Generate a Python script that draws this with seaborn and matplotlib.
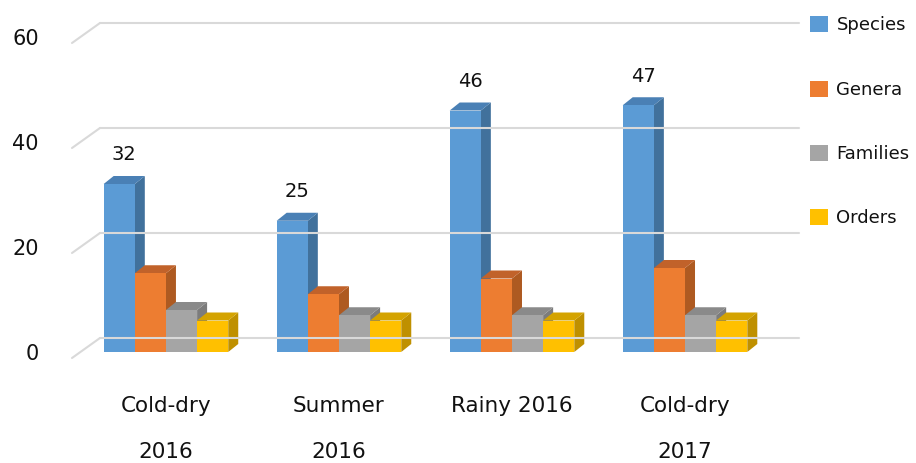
import matplotlib
matplotlib.use("Agg")
import matplotlib.pyplot as plt
import seaborn as sns
import pandas as pd
from matplotlib.patches import Polygon
from matplotlib.lines import Line2D
from matplotlib.transforms import IdentityTransform

seasons = ["Cold-dry\n2016", "Summer\n2016", "Rainy 2016\n", "Cold-dry\n2017"]
taxa = ["Species", "Genera", "Families", "Orders"]
species = [32, 25, 46, 47]
genera = [15, 11, 14, 16]
families = [8, 7, 7, 7]
orders = [6, 6, 6, 6]
yticks = [0, 20, 40, 60]

front_colors = ["#5B9BD5", "#ED7D31", "#A5A5A5", "#FFC000"]
side_colors = ["#41719C", "#AE5A21", "#7C7C7C", "#BF9000"]
top_colors = ["#4A80B5", "#C1622A", "#8A8A8A", "#D4A300"]

rows = []
for t, vals in zip(taxa, [species, genera, families, orders]):
    for s, v in zip(seasons, vals):
        rows.append({"season": s, "taxon": t, "count": v})
df = pd.DataFrame(rows)

sns.set_theme(style="white")
plt.rcParams["font.family"] = ["DejaVu Sans"]
plt.rcParams["text.color"] = "#111111"

DPI = 100
W, H = 916, 463
fig = plt.figure(figsize=(W / DPI, H / DPI), dpi=DPI)
ax_left, ax_right, ax_top, ax_bot = 72, 771, 37, 352
ax = fig.add_axes([ax_left / W, (H - ax_bot) / H, (ax_right - ax_left) / W, (ax_bot - ax_top) / H])

sns.barplot(data=df, x="season", y="count", hue="taxon", hue_order=taxa,
            order=seasons, palette=front_colors, saturation=1, width=0.72,
            ax=ax, legend=True, edgecolor="none", linewidth=0, errorbar=None)

ax.set_xlim(-0.543, 3.497)
ax.set_ylim(0, 60)
for sp in ax.spines.values():
    sp.set_visible(False)
ax.set_xlabel("")
ax.set_ylabel("")
ax.set_yticks(yticks)
ax.set_yticklabels([str(v) for v in yticks], fontsize=15, color="#111111")
ax.tick_params(axis="y", length=0, pad=24)
ax.tick_params(axis="x", length=0, pad=32)
for lab in ax.get_xticklabels():
    lab.set_fontsize(15.5)
    lab.set_color("#111111")
    lab.set_linespacing(2.6)
    lab.set_verticalalignment("top")
ax.grid(False)
ax.patch.set_alpha(0)

fig.canvas.draw()
tr = ax.transData
ident = IdentityTransform()

# back wall grid lines with 3D offset
gdx, gdy_back, gdy_front = 28, 14, -6
x0d, x1d = ax.get_xlim()
for t in yticks:
    px0, py = tr.transform((x0d, t))
    px1, _ = tr.transform((x1d, t))
    fig.lines.append(Line2D([px0 + gdx, px1 + gdx], [py + gdy_back, py + gdy_back],
                            transform=ident, color="#D9D9D9", lw=1.5, zorder=0))
    fig.lines.append(Line2D([px0, px0 + gdx], [py + gdy_front, py + gdy_back],
                            transform=ident, color="#D9D9D9", lw=1.5, zorder=0))

# 3D faces for bars
bdx, bdy = 10, 8
bars = [p for p in ax.patches if p.get_height() > 0]
bars_sorted = sorted(bars, key=lambda p: p.get_x())
for k, p in enumerate(bars_sorted):
    fc = p.get_facecolor()
    ci = min(range(4), key=lambda i: sum(abs(a - b) for a, b in zip(matplotlib.colors.to_rgb(front_colors[i]), fc[:3])))
    x0, x1 = p.get_x(), p.get_x() + p.get_width()
    h = p.get_height()
    (dx0, dy0) = tr.transform((x0, 0))
    (dx1, dy1) = tr.transform((x1, h))
    p.set_zorder(10 + 3 * k + 2)
    side = Polygon([(dx1, dy0), (dx1 + bdx, dy0 + bdy), (dx1 + bdx, dy1 + bdy), (dx1, dy1)],
                   closed=True, transform=ident, facecolor=side_colors[ci], edgecolor="none",
                   zorder=10 + 3 * k + 1)
    top = Polygon([(dx0, dy1), (dx0 + bdx, dy1 + bdy), (dx1 + bdx, dy1 + bdy), (dx1, dy1)],
                  closed=True, transform=ident, facecolor=top_colors[ci], edgecolor="none",
                  zorder=10 + 3 * k + 1)
    ax.add_artist(side)
    ax.add_artist(top)
    side.set_clip_on(False)
    top.set_clip_on(False)
    p.set_clip_on(False)
    if ci == 0:
        ax.annotate(f"{int(round(h))}", xy=((x0 + x1) / 2, h), xytext=(5, 29),
                    textcoords="offset pixels", ha="center", va="center",
                    fontsize=14, color="#111111", zorder=200)

# legend
handles, labels = ax.get_legend_handles_labels()
leg = ax.legend(handles, labels, loc="upper left", bbox_to_anchor=(803 / W, 1 - 9 / H),
                bbox_transform=fig.transFigure, frameon=False, fontsize=13,
                handlelength=1.0, handleheight=1.0, handletextpad=0.45, labelspacing=2.55,
                borderaxespad=0)
for txt in leg.get_texts():
    txt.set_color("#111111")

fig.savefig("out.png", dpi=DPI)
